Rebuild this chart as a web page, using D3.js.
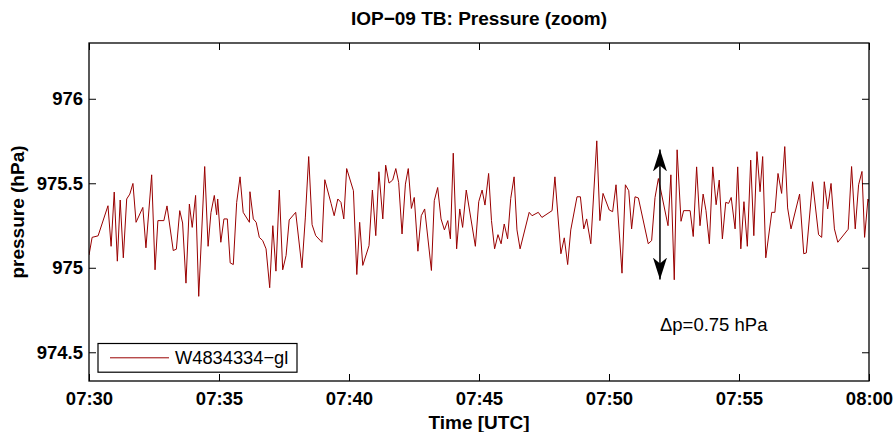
<!DOCTYPE html>
<html>
<head>
<meta charset="utf-8">
<script src="https://cdn.jsdelivr.net/npm/d3@7"></script>
<style>
  html, body { margin: 0; padding: 0; background: #fff; }
  svg { display: block; font-family: "Liberation Sans", Arial, Helvetica, sans-serif; }
</style>
</head>
<body>
<svg id="chart" width="894" height="432"></svg>
<script>
// ---- data (minutes after 07:30 UTC, pressure in hPa) ----
const minutes = [
  0.00,0.12,0.35,0.73,0.85,0.97,1.09,1.20,1.32,1.45,1.57,1.69,1.81,2.07,2.19,2.41,2.54,2.65,2.88,3.00,
  3.24,3.36,3.49,3.60,3.73,3.86,3.97,4.10,4.22,4.45,4.58,4.69,4.82,4.91,4.95,5.07,5.19,5.32,5.43,5.55,
  5.68,5.81,5.93,6.17,6.19,6.32,6.43,6.55,6.68,6.81,6.95,7.07,7.19,7.32,7.45,7.58,7.70,7.95,8.19,8.32,
  8.45,8.58,8.72,8.96,9.07,9.31,9.43,9.57,9.69,9.80,9.91,10.17,10.30,10.41,10.53,10.77,10.90,11.03,11.15,11.30,
  11.41,11.54,11.68,11.80,11.91,12.04,12.17,12.28,12.40,12.51,12.65,12.78,12.91,13.17,13.28,13.41,13.54,13.67,13.80,13.90,
  14.01,14.14,14.26,14.37,14.51,14.86,14.99,15.12,15.23,15.37,15.48,15.60,15.73,15.85,15.97,16.10,16.22,16.35,16.46,16.58,
  16.93,17.04,17.28,17.42,17.81,17.92,18.15,18.28,18.41,18.53,18.77,18.90,19.03,19.14,19.30,19.53,19.65,19.77,20.01,20.14,
  20.27,20.50,20.63,20.76,20.87,21.00,21.13,21.51,21.64,21.77,21.90,22.27,22.38,22.51,22.62,22.77,22.87,23.12,23.24,23.37,
  23.50,23.62,23.73,23.86,23.99,24.12,24.24,24.36,24.49,24.60,24.70,24.85,24.95,25.07,25.19,25.32,25.45,25.57,25.69,25.81,
  25.91,26.03,26.26,26.38,26.50,26.64,26.76,26.87,27.00,27.33,27.49,27.59,27.83,28.06,28.18,28.28,28.41,28.54,28.67,28.80,
  29.20,29.33,29.47,29.60,29.73,29.83,29.96,30.05
];
const pressure = [
  975.075,975.180,975.189,975.367,975.127,975.448,975.039,975.401,975.059,975.407,975.436,975.499,975.269,975.357,975.118,975.550,974.988,975.279,975.279,975.366,
  975.102,975.110,975.338,975.265,974.909,975.377,975.239,975.428,974.831,975.599,975.127,975.326,975.428,975.314,975.407,975.151,975.289,975.289,975.029,975.019,
  975.387,975.538,975.328,975.269,975.450,975.289,975.269,975.180,975.161,975.112,974.882,975.249,974.980,975.460,974.988,975.073,975.283,975.328,975.000,975.295,
  975.658,975.255,975.190,975.151,975.521,975.381,975.308,975.407,975.387,975.289,975.587,975.456,974.960,975.269,975.014,975.131,975.460,975.190,975.568,975.289,
  975.607,975.501,975.519,975.587,975.505,975.200,975.495,975.587,975.351,975.416,975.098,975.308,975.348,974.984,975.397,975.475,975.289,975.224,975.279,975.171,
  975.678,975.112,975.348,975.239,975.460,975.127,975.391,975.460,975.371,975.558,975.279,975.112,975.196,975.142,975.259,975.171,975.410,975.538,975.224,975.112,
  975.328,975.308,975.328,975.298,975.338,975.538,975.083,975.177,975.019,975.224,975.420,975.420,975.230,975.289,975.142,975.751,975.279,975.440,975.342,975.332,
  975.491,974.968,975.491,975.456,975.230,975.420,975.413,975.142,975.161,975.416,975.528,975.249,975.550,974.929,975.698,975.275,975.338,975.338,975.185,975.597,
  975.249,975.436,975.338,975.142,975.597,975.373,975.519,975.171,975.387,975.381,975.416,975.230,975.597,975.112,975.391,975.127,975.637,975.190,975.687,975.450,
  975.658,975.059,975.328,975.328,975.558,975.440,975.717,975.354,975.230,975.436,975.083,975.088,975.509,975.196,975.180,975.509,975.348,975.499,975.230,975.151,
  975.228,975.599,975.230,975.491,975.570,975.180,975.407,975.370
];
const seriesName = "W4834334\u2212gl";
const xTickMinutes = [0, 5, 10, 15, 20, 25, 30];
const xTickLabels = ["07:30", "07:35", "07:40", "07:45", "07:50", "07:55", "08:00"];
const yTicks = [974.5, 975, 975.5, 976];
const yTickLabels = ["974.5", "975", "975.5", "976"];
const yDomain = [974.33, 976.33];
const xDomain = [0, 30];
const arrowMinute = 21.96;
const arrowRange = [975.70, 974.93];
const annotationText = "\u0394p=0.75 hPa";
const annotationAt = [21.96, 974.625];
const titleText = "IOP\u221209 TB: Pressure (zoom)";
const xLabel = "Time [UTC]";
const yLabel = "pressure (hPa)";

// ---- layout ----
const W = 894, H = 432;
const m = { left: 89, right: 25, top: 43, bottom: 51 };
const iw = W - m.left - m.right, ih = H - m.top - m.bottom;
const lineColor = "#990000";
const tickFont = "18.5px";
const labelFont = "19px";

const svg = d3.select("#chart");
const g = svg.append("g").attr("transform", `translate(${m.left},${m.top})`);

const x = d3.scaleLinear().domain(xDomain).range([0, iw]);
const y = d3.scaleLinear().domain(yDomain).range([ih, 0]);

const defs = svg.append("defs");
defs.append("clipPath").attr("id", "clip")
  .append("rect").attr("width", iw).attr("height", ih);

// data line
const data = minutes.map((t, i) => ({ t, p: pressure[i] }));
g.append("path")
  .datum(data)
  .attr("clip-path", "url(#clip)")
  .attr("fill", "none")
  .attr("stroke", lineColor)
  .attr("stroke-width", 1)
  .attr("d", d3.line().x(d => x(d.t)).y(d => y(d.p)));

// axes (ticks pointing inward, MATLAB box style)
const tickLen = 7;
const styleAxis = (sel, showLabels) => {
  sel.select(".domain").remove();
  sel.selectAll(".tick line").attr("stroke", "#000").attr("stroke-width", 1);
  sel.selectAll(".tick text")
    .attr("fill", "#000")
    .style("font-size", tickFont)
    .style("font-weight", "bold")
    .style("font-family", '"Liberation Sans", Arial, sans-serif');
  if (!showLabels) sel.selectAll(".tick text").remove();
};

const xAxis = d3.axisBottom(x).tickValues(xTickMinutes)
  .tickFormat((d, i) => xTickLabels[i]).tickSizeInner(-tickLen).tickSizeOuter(0).tickPadding(11);
g.append("g").attr("transform", `translate(0,${ih})`).call(xAxis).call(s => styleAxis(s, true));
g.append("g").call(d3.axisTop(x).tickValues(xTickMinutes).tickSizeInner(-tickLen).tickSizeOuter(0))
  .call(s => styleAxis(s, false));

const yAxis = d3.axisLeft(y).tickValues(yTicks)
  .tickFormat((d, i) => yTickLabels[i]).tickSizeInner(-tickLen).tickSizeOuter(0).tickPadding(6);
g.append("g").call(yAxis).call(s => styleAxis(s, true));
g.append("g").attr("transform", `translate(${iw},0)`)
  .call(d3.axisRight(y).tickValues(yTicks).tickSizeInner(-tickLen).tickSizeOuter(0))
  .call(s => styleAxis(s, false));

// frame
g.append("rect").attr("width", iw).attr("height", ih)
  .attr("fill", "none").attr("stroke", "#000").attr("stroke-width", 1.3);

// arrow annotation
defs.append("marker").attr("id", "ah")
  .attr("viewBox", "0 0 22 14").attr("refX", 22).attr("refY", 7)
  .attr("markerWidth", 22).attr("markerHeight", 14)
  .attr("markerUnits", "userSpaceOnUse").attr("orient", "auto-start-reverse")
  .append("path").attr("d", "M0,0 L22,7 L0,14 L6,7 Z").attr("fill", "#000");
g.append("line")
  .attr("x1", x(arrowMinute)).attr("x2", x(arrowMinute))
  .attr("y1", y(arrowRange[0])).attr("y2", y(arrowRange[1]))
  .attr("stroke", "#000").attr("stroke-width", 1.5)
  .attr("marker-start", "url(#ah)").attr("marker-end", "url(#ah)");
g.append("text")
  .attr("x", x(annotationAt[0])).attr("y", y(annotationAt[1]))
  .style("font-size", "18.5px").attr("fill", "#000")
  .text(annotationText);

// legend
const lg = g.append("g").attr("transform", `translate(9,${ih - 37.5})`);
lg.append("rect").attr("width", 199).attr("height", 28.7)
  .attr("fill", "#fff").attr("stroke", "#000").attr("stroke-width", 1.2);
lg.append("line").attr("x1", 12).attr("x2", 71).attr("y1", 14.3).attr("y2", 14.3)
  .attr("stroke", lineColor).attr("stroke-width", 1);
lg.append("text").attr("x", 77).attr("y", 20.8)
  .style("font-size", "18.3px").attr("fill", "#000").text(seriesName);

// title and axis labels
svg.append("text").attr("x", m.left + iw / 2).attr("y", 25)
  .attr("text-anchor", "middle").style("font-size", labelFont).style("font-weight", "bold")
  .text(titleText);
svg.append("text").attr("x", m.left + iw / 2).attr("y", 429)
  .attr("text-anchor", "middle").style("font-size", labelFont).style("font-weight", "bold")
  .text(xLabel);
svg.append("text")
  .attr("transform", `translate(24,${m.top + ih / 2}) rotate(-90)`)
  .attr("text-anchor", "middle").style("font-size", labelFont).style("font-weight", "bold")
  .text(yLabel);
</script>
</body>
</html>
